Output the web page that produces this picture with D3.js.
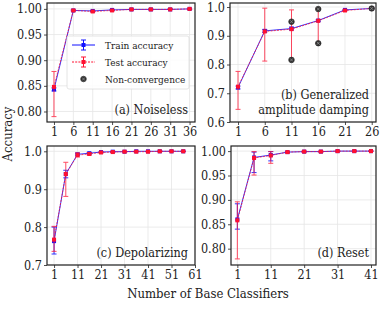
<!DOCTYPE html>
<html>
<head>
<meta charset="utf-8">
<script src="https://cdn.jsdelivr.net/npm/d3@7"></script>
<style>
  body { margin: 0; background: #fff; }
  svg { display: block; }
  svg text { fill: #222; }
</style>
</head>
<body>
<svg id="chart" width="381" height="309"></svg>
<script>
// (a) Noiseless
const xA = [1, 6, 11, 16, 21, 26, 31, 36];
const trainA   = [0.843, 0.997, 0.996, 0.998, 0.999, 0.999, 0.999, 1.000];
const trainLoA = [0.840, 0.996, 0.995, 0.997, 0.998, 0.998, 0.999, 0.999];
const trainHiA = [0.846, 0.998, 0.997, 0.999, 1.000, 1.000, 1.000, 1.000];
const testA    = [0.848, 0.997, 0.995, 0.997, 0.999, 0.999, 0.999, 1.000];
const testLoA  = [0.790, 0.996, 0.994, 0.996, 0.998, 0.998, 0.999, 0.999];
const testHiA  = [0.878, 0.998, 0.996, 0.998, 1.000, 1.000, 1.000, 1.000];

// (b) Generalized amplitude damping
const xB = [1, 6, 11, 16, 21, 26];
const trainB   = [0.720, 0.917, 0.925, 0.953, 0.990, 0.995];
const trainLoB = [0.715, 0.912, 0.920, 0.950, 0.988, 0.994];
const trainHiB = [0.725, 0.922, 0.930, 0.956, 0.992, 0.996];
const testB    = [0.723, 0.915, 0.923, 0.952, 0.988, 0.995];
const testLoB  = [0.644, 0.812, 0.816, 0.874, 0.986, 0.994];
const testHiB  = [0.776, 0.996, 0.990, 0.993, 0.990, 0.996];
const nonConvXB = [11, 11, 16, 16, 26];
const nonConvYB = [0.949, 0.816, 0.993, 0.874, 0.995];

// (c) Depolarizing
const xC = [1, 6, 11, 16, 21, 26, 31, 36, 41, 46, 51, 56];
const trainC   = [0.763, 0.940, 0.992, 0.995, 0.998, 0.999, 0.999, 1.000, 1.000, 1.000, 1.000, 1.000];
const trainLoC = [0.729, 0.930, 0.990, 0.993, 0.997, 0.998, 0.999, 0.999, 0.999, 1.000, 1.000, 1.000];
const trainHiC = [0.800, 0.950, 0.995, 0.997, 0.999, 1.000, 1.000, 1.000, 1.000, 1.000, 1.000, 1.000];
const testC    = [0.767, 0.940, 0.990, 0.993, 0.997, 0.998, 0.999, 0.999, 0.999, 1.000, 1.000, 1.000];
const testLoC  = [0.736, 0.881, 0.985, 0.990, 0.995, 0.997, 0.998, 0.999, 0.999, 0.999, 1.000, 1.000];
const testHiC  = [0.802, 0.971, 0.996, 0.996, 0.998, 0.999, 1.000, 1.000, 1.000, 1.000, 1.000, 1.000];

// (d) Reset
const xD = [1, 6, 11, 16, 21, 26, 31, 36, 41];
const trainD   = [0.860, 0.987, 0.992, 0.998, 0.999, 0.999, 1.000, 1.000, 1.000];
const trainLoD = [0.840, 0.956, 0.980, 0.997, 0.998, 0.998, 0.999, 1.000, 1.000];
const trainHiD = [0.892, 0.998, 0.999, 0.999, 1.000, 1.000, 1.000, 1.000, 1.000];
const testD    = [0.858, 0.986, 0.991, 0.998, 0.999, 0.999, 1.000, 1.000, 1.000];
const testLoD  = [0.779, 0.951, 0.975, 0.996, 0.998, 0.998, 0.999, 1.000, 1.000];
const testHiD  = [0.896, 0.999, 0.999, 0.999, 1.000, 1.000, 1.000, 1.000, 1.000];

const ticksXA = [1, 6, 11, 16, 21, 26, 31, 36];
const ticksXB = [1, 6, 11, 16, 21, 26];
const ticksXC = [1, 11, 21, 31, 41, 51, 61];
const ticksXD = [1, 11, 21, 31, 41];
const ticksYA = [0.80, 0.85, 0.90, 0.95, 1.00];
const ticksYB = [0.6, 0.7, 0.8, 0.9, 1.0];
const ticksYC = [0.7, 0.8, 0.9, 1.0];
const ticksYD = [0.80, 0.85, 0.90, 0.95, 1.00];

const blue = "#1010ff";
const red = "#ff1030";
const FONT = "'DejaVu Serif Condensed', 'DejaVu Serif', serif";

const svg = d3.select("#chart");

function drawNonConv(g, cx, cy) {
  g.append("circle").attr("cx", cx).attr("cy", cy).attr("r", 2.8)
    .attr("fill", "#333").attr("stroke", "#222").attr("stroke-width", 0.6);
  const s = 1.5;
  g.append("path")
    .attr("d", `M${cx - s},${cy - s}L${cx + s},${cy + s}M${cx - s},${cy + s}L${cx + s},${cy - s}`)
    .attr("stroke", "#999").attr("stroke-width", 0.7);
}

function drawPanel(p) {
  const g = svg.append("g");
  const x = d3.scaleLinear().domain(p.xDomain).range([p.left, p.right]);
  const y = d3.scaleLinear().domain(p.yDomain).range([p.bottom, p.top]);

  // grid
  g.append("g").selectAll("line").data(p.xTicks).join("line")
    .attr("x1", d => x(d)).attr("x2", d => x(d)).attr("y1", p.top).attr("y2", p.bottom)
    .attr("stroke", "#e6e6e6").attr("stroke-width", 0.8);
  g.append("g").selectAll("line").data(p.yTicks).join("line")
    .attr("y1", d => y(d)).attr("y2", d => y(d)).attr("x1", p.left).attr("x2", p.right)
    .attr("stroke", "#e6e6e6").attr("stroke-width", 0.8);

  // axes
  const ax = g.append("g").attr("transform", `translate(0,${p.bottom})`)
    .call(d3.axisBottom(x).tickValues(p.xTicks).tickSize(3).tickPadding(2).tickFormat(d3.format("d")));
  const ay = g.append("g").attr("transform", `translate(${p.left},0)`)
    .call(d3.axisLeft(y).tickValues(p.yTicks).tickSize(3).tickPadding(2).tickFormat(d3.format(p.yFmt)));
  [ax, ay].forEach(a => {
    a.attr("font-family", FONT).attr("font-size", 12.5);
    a.select(".domain").remove();
    a.selectAll("text").attr("fill", "#222");
    a.selectAll("line").attr("stroke", "#222").attr("stroke-width", 0.8);
  });

  const series = [
    { m: p.train, lo: p.trainLo, hi: p.trainHi, color: blue, dash: null, op: 0.85 },
    { m: p.test, lo: p.testLo, hi: p.testHi, color: red, dash: "2,1.2", op: 0.75 }
  ];
  series.forEach(s => {
    const pts = p.x.map((d, i) => ({ x: d, m: s.m[i], lo: s.lo[i], hi: s.hi[i] }));
    const eb = g.append("g").attr("stroke", s.color).attr("stroke-width", 1).attr("opacity", s.op);
    eb.selectAll("line.v").data(pts).join("line").attr("class", "v")
      .attr("x1", d => x(d.x)).attr("x2", d => x(d.x))
      .attr("y1", d => y(d.lo)).attr("y2", d => y(d.hi));
    eb.selectAll("line.c1").data(pts).join("line").attr("class", "c1")
      .attr("x1", d => x(d.x) - 2.5).attr("x2", d => x(d.x) + 2.5)
      .attr("y1", d => y(d.lo)).attr("y2", d => y(d.lo));
    eb.selectAll("line.c2").data(pts).join("line").attr("class", "c2")
      .attr("x1", d => x(d.x) - 2.5).attr("x2", d => x(d.x) + 2.5)
      .attr("y1", d => y(d.hi)).attr("y2", d => y(d.hi));
    g.append("path").datum(pts)
      .attr("d", d3.line().x(d => x(d.x)).y(d => y(d.m)))
      .attr("fill", "none").attr("stroke", s.color).attr("stroke-width", 1)
      .attr("stroke-dasharray", s.dash).attr("opacity", s.op);
    g.append("g").selectAll("rect").data(pts).join("rect")
      .attr("x", d => x(d.x) - 2).attr("y", d => y(d.m) - 2)
      .attr("width", 4).attr("height", 4).attr("fill", s.color);
  });

  if (p.ncX) {
    p.ncX.forEach((d, i) => drawNonConv(g, x(d), y(p.ncY[i])));
  }

  // frame
  g.append("rect").attr("x", p.left).attr("y", p.top)
    .attr("width", p.right - p.left).attr("height", p.bottom - p.top)
    .attr("fill", "none").attr("stroke", "#222").attr("stroke-width", 1.2);

  // label
  p.label.forEach((t, i) => {
    g.append("text").attr("x", p.right - 7)
      .attr("y", p.bottom - 8 - (p.label.length - 1 - i) * 15)
      .attr("text-anchor", "end").attr("font-family", FONT).attr("font-size", 12.5).text(t);
  });
  return { g, x, y };
}

drawPanel({
  left: 47, right: 195, top: 3, bottom: 122,
  xDomain: [-0.8, 37.4], yDomain: [0.7795, 1.0115], yFmt: ".2f",
  xTicks: ticksXA, yTicks: ticksYA,
  x: xA, train: trainA, trainLo: trainLoA, trainHi: trainHiA,
  test: testA, testLo: testLoA, testHi: testHiA,
  label: ["(a) Noiseless"]
});
drawPanel({
  left: 230, right: 376, top: 3, bottom: 122,
  xDomain: [-0.5, 26.8], yDomain: [0.6, 1.014], yFmt: ".1f",
  xTicks: ticksXB, yTicks: ticksYB,
  x: xB, train: trainB, trainLo: trainLoB, trainHi: trainHiB,
  test: testB, testLo: testLoB, testHi: testHiB,
  ncX: nonConvXB, ncY: nonConvYB,
  label: ["(b) Generalized", "amplitude damping"]
});
drawPanel({
  left: 47, right: 195, top: 146, bottom: 265,
  xDomain: [-2, 61], yDomain: [0.7, 1.014], yFmt: ".1f",
  xTicks: ticksXC, yTicks: ticksYC,
  x: xC, train: trainC, trainLo: trainLoC, trainHi: trainHiC,
  test: testC, testLo: testLoC, testHi: testHiC,
  label: ["(c) Depolarizing"]
});
drawPanel({
  left: 231, right: 376, top: 146, bottom: 265,
  xDomain: [-0.9, 42.5], yDomain: [0.7665, 1.0105], yFmt: ".2f",
  xTicks: ticksXD, yTicks: ticksYD,
  x: xD, train: trainD, trainLo: trainLoD, trainHi: trainHiD,
  test: testD, testLo: testLoD, testHi: testHiD,
  label: ["(d) Reset"]
});

// legend in panel (a)
const lg = svg.append("g").attr("transform", "translate(67,36)");
lg.append("rect").attr("width", 122).attr("height", 53).attr("rx", 2)
  .attr("fill", "#fff").attr("fill-opacity", 0.85).attr("stroke", "#ddd").attr("stroke-width", 0.8);
const legendItems = [
  { name: "Train accuracy", color: blue, dash: null },
  { name: "Test accuracy", color: red, dash: "2,1.2" },
  { name: "Non-convergence", color: null }
];
legendItems.forEach((it, i) => {
  const cy = 9 + i * 17;
  if (it.color) {
    lg.append("line").attr("x1", 5).attr("x2", 28).attr("y1", cy).attr("y2", cy)
      .attr("stroke", it.color).attr("stroke-dasharray", it.dash);
    lg.append("line").attr("x1", 16.5).attr("x2", 16.5).attr("y1", cy - 5).attr("y2", cy + 5)
      .attr("stroke", it.color);
    [cy - 5, cy + 5].forEach(yy => lg.append("line").attr("x1", 14).attr("x2", 19)
      .attr("y1", yy).attr("y2", yy).attr("stroke", it.color));
    lg.append("rect").attr("x", 14.5).attr("y", cy - 2).attr("width", 4).attr("height", 4)
      .attr("fill", it.color);
  } else {
    drawNonConv(lg, 16.5, cy);
  }
  lg.append("text").attr("x", 38).attr("y", cy + 4)
    .attr("font-family", FONT).attr("font-size", 10).text(it.name);
});

// axis titles
svg.append("text").attr("transform", "translate(12,134) rotate(-90)")
  .attr("text-anchor", "middle").attr("font-family", FONT).attr("font-size", 13).text("Accuracy");
svg.append("text").attr("x", 208).attr("y", 298)
  .attr("text-anchor", "middle").attr("font-family", FONT).attr("font-size", 13).text("Number of Base Classifiers");
</script>
</body>
</html>
